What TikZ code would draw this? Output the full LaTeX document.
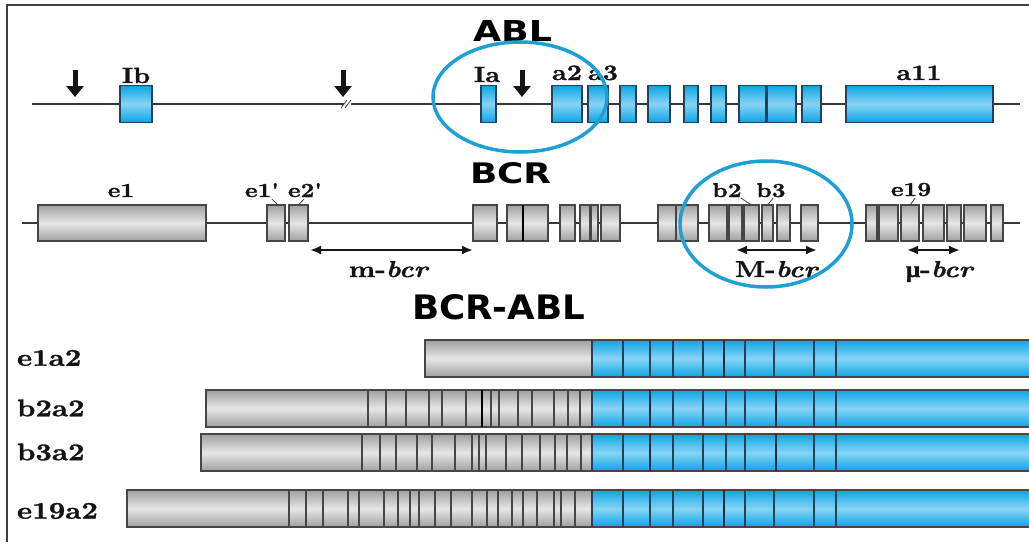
\documentclass[tikz,border=0pt]{standalone}
\usepackage{fontspec}
\usepackage{graphicx}
\usetikzlibrary{arrows.meta}
\newfontfamily\labfont[Extension=.otf, UprightFont=lmroman10-bold, ItalicFont=lmroman10-bolditalic, BoldFont=lmroman10-bold, BoldItalicFont=lmroman10-bolditalic, FakeStretch=1.2, FakeBold=1.2]{lmroman10}
\newfontfamily\titlefont{DejaVu Sans}
\newfontfamily\greekfont[FakeStretch=1.1, FakeBold=1.2]{Liberation Serif}
\definecolor{ablblue}{RGB}{10,165,228}
\definecolor{ablbluelight}{RGB}{135,212,245}
\definecolor{exgray}{RGB}{160,160,160}
\definecolor{exgraylight}{RGB}{230,230,230}
\definecolor{ringblue}{RGB}{30,160,215}
\definecolor{edgegray}{RGB}{70,70,70}
\definecolor{blueedge}{RGB}{35,65,90}
\definecolor{inkblack}{RGB}{20,20,20}
\newcommand\exon[5]{\node[#5, minimum width={#3-#2}] (#1) at ({(#2+#3)/2},#4) {};}
\begin{document}
\begin{tikzpicture}[x=1pt,y=-1pt,
  every node/.style={inner sep=0pt, outer sep=0pt},
  ablex/.style={draw=blueedge, line width=1.1pt, top color=ablblue, bottom color=ablblue, middle color=ablbluelight, minimum height=37pt},
  bcrex/.style={draw=edgegray, line width=1.1pt, top color=exgray, bottom color=exgray, middle color=exgraylight, minimum height=36pt},
  backbone/.style={line width=1.9pt, draw=inkblack!85},
  downarrow/.style={line width=5pt, draw=inkblack, -{Triangle[width=17pt,length=11pt]}},
  regionarrow/.style={line width=2.2pt, draw=inkblack, {Latex[length=11pt,width=9pt]}-{Latex[length=11pt,width=9pt]}},
  ring/.style={line width=3.5pt, draw=ringblue},
  leader/.style={line width=0.8pt, draw=inkblack!80},
  abllab/.style={anchor=base, text=inkblack, font=\labfont\fontsize{22}{24}\selectfont},
  bcrlab/.style={anchor=base, text=inkblack, font=\labfont\fontsize{20}{22}\selectfont},
  reglab/.style={anchor=base, text=inkblack, font=\labfont\fontsize{23}{25}\selectfont},
  barlab/.style={anchor=west, text=inkblack, font=\labfont\fontsize{24}{26}\selectfont},
  grayfill/.style={top color=exgray, bottom color=exgray, middle color=exgraylight},
  bluefill/.style={top color=ablblue, bottom color=ablblue, middle color=ablbluelight},
  graydiv/.style={line width=1.3pt, draw=edgegray},
  graydark/.style={line width=2pt, draw=black},
  bluediv/.style={line width=1.3pt, draw=blueedge},
  bluedark/.style={line width=2.2pt, draw=blueedge!70!black},
  frame/.style={line width=1.5pt, draw=black!75}
]
\fill[white] (0,0) rectangle (1029,542);
\useasboundingbox (0,0) rectangle (1029,542);
% frame
\coordinate (frTL) at (7,5);
\coordinate (frTR) at (1029,5);
\coordinate (frBL) at (7,542);
\draw[frame] (frBL) -- (frTL) -- (frTR);

% ---------------- ABL ----------------
\coordinate (ablL) at (32,104);
\coordinate (brkL) at (344,104);
\coordinate (brkR) at (351,104);
\coordinate (ablR) at (1020,104);
\draw[backbone] (ablL) -- (brkL);
\draw[backbone] (brkR) -- (ablR);
\draw[line width=0.8pt, draw=inkblack!80] (341,108) -- (347,100) (345,108) -- (351,100);

\exon{Ib}{120}{152}{104}{ablex}
\exon{Ia}{481}{496}{104}{ablex}
\exon{a2}{552}{582}{104}{ablex}
\exon{a3}{588}{608}{104}{ablex}
\exon{a4}{620}{636}{104}{ablex}
\exon{a5}{648}{670}{104}{ablex}
\exon{a6}{684}{698}{104}{ablex}
\exon{a7}{711}{726}{104}{ablex}
\exon{a8}{739}{766}{104}{ablex}
\exon{a9}{767}{796}{104}{ablex}
\exon{a10}{802}{821}{104}{ablex}
\exon{a11}{846}{993}{104}{ablex}

\coordinate (arAt) at (75,70);
\coordinate (arAh) at (75,97);
\coordinate (arBt) at (343,70);
\coordinate (arBh) at (343,97);
\coordinate (arCt) at (522,70);
\coordinate (arCh) at (522,97);
\draw[downarrow] (arAt) -- (arAh);
\draw[downarrow] (arBt) -- (arBh);
\draw[downarrow] (arCt) -- (arCh);

\node[abllab] (lIb) at (136,83) {Ib};
\node[abllab] (lIa) at (487,82) {Ia};
\node[abllab] (la2) at (567,80) {a2};
\node[abllab] (la3) at (603,80) {a3};
\node[abllab] (la11) at (919,80) {a11};

\node[anchor=south west] (tABL) at (473,41) {\resizebox{79pt}{21pt}{\titlefont\bfseries ABL}};

% ---------------- BCR ----------------
\coordinate (bcrL) at (22,223);
\coordinate (bcrR) at (1020,223);
\draw[backbone] (bcrL) -- (bcrR);

\exon{e1}{38}{206}{223}{bcrex}
\exon{e1p}{267}{285}{223}{bcrex}
\exon{e2p}{289}{308}{223}{bcrex}
\exon{bx1}{473}{497}{223}{bcrex}
\exon{bx2}{507}{523}{223}{bcrex}
\exon{bx3}{523}{548}{223}{bcrex}
\exon{bx4}{560}{575}{223}{bcrex}
\exon{bx5}{580}{590}{223}{bcrex}
\exon{bx6}{591}{598}{223}{bcrex}
\exon{bx7}{601}{620}{223}{bcrex}
\exon{bx8}{658}{676}{223}{bcrex}
\exon{bx9}{676}{698}{223}{bcrex}
\exon{bx10}{709}{727}{223}{bcrex}
\exon{bx11}{729}{742}{223}{bcrex}
\exon{b2ex}{744}{759}{223}{bcrex}
\exon{b3ex}{762}{773}{223}{bcrex}
\exon{bx14}{777}{790}{223}{bcrex}
\exon{bx15}{801}{818}{223}{bcrex}
\exon{cx1}{866}{877}{223}{bcrex}
\exon{cx2}{879}{898}{223}{bcrex}
\exon{e19ex}{901}{919}{223}{bcrex}
\exon{cx4}{923}{944}{223}{bcrex}
\exon{cx5}{947}{961}{223}{bcrex}
\exon{cx6}{964}{986}{223}{bcrex}
\exon{cx7}{991}{1003}{223}{bcrex}
\draw[line width=1.8pt, draw=black] (bx3.north west) -- (bx3.south west);

\node[bcrlab] (le1) at (121,197) {e1};
\node[bcrlab] (le1p) at (262,197) {e1'};
\node[bcrlab] (le2p) at (305,197) {e2'};
\node[bcrlab] (lb2) at (727,197) {b2};
\node[bcrlab] (lb3) at (771,197) {b3};
\node[bcrlab] (le19) at (911,196) {e19};
\draw[leader] ([xshift=10pt,yshift=-2pt]le1p.south) -- ([xshift=2pt]e1p.north);
\draw[leader] ([xshift=-1pt,yshift=-2pt]le2p.south) -- (e2p.north);
\draw[leader] ([xshift=14pt,yshift=-1pt]lb2.south) -- (b2ex.north);
\draw[leader] ([xshift=2pt,yshift=-1pt]lb3.south) -- (b3ex.north);
\draw[leader] ([xshift=4pt,yshift=-2pt]le19.south) -- (e19ex.north);

\node[anchor=south west] (tBCR) at (470,184) {\resizebox{81pt}{21pt}{\titlefont\bfseries BCR}};

\coordinate (mL) at (310,250);
\coordinate (mR) at (473,250);
\coordinate (ML) at (736,250);
\coordinate (MR) at (817,250);
\coordinate (uL) at (907,250);
\coordinate (uR) at (960,250);
\draw[regionarrow] (mL) -- (mR);
\draw[regionarrow] (ML) -- (MR);
\draw[regionarrow] (uL) -- (uR);

% rings
\draw[ring] (520,97) ellipse [x radius=87, y radius=55];
\draw[ring] (766,224) ellipse [x radius=86, y radius=63];

\node[reglab] (lm) at (389,277) {m-\textit{bcr}};
\node[reglab] (lM) at (777,277) {M-\textit{bcr}};
\node[reglab] (lu) at (940,277) {{\greekfont\bfseries μ}-\textit{bcr}};

% ---------------- BCR-ABL ----------------
\node[anchor=south west] (tFus) at (412,320) {\resizebox{173pt}{25pt}{\titlefont\bfseries BCR-ABL}};

% e1a2
\shade[grayfill] (425,340) rectangle (592,377);
\shade[bluefill] (592,340) rectangle (1034,377);
\draw[line width=1.2pt, draw=edgegray] (1034,340) -- (425,340) -- (425,377) -- (1034,377);
\foreach \x in {623,650,673,703,745,774,814,836} \draw[bluediv] (\x,340) -- (\x,377);
\draw[bluedark] (724,340) -- (724,377);
\draw[bluediv] (592,340) -- (592,377);

% b2a2
\shade[grayfill] (206,390) rectangle (592,427);
\shade[bluefill] (592,390) rectangle (1034,427);
\draw[line width=1.2pt, draw=edgegray] (1034,390) -- (206,390) -- (206,427) -- (1034,427);
\foreach \x in {368,386,406,429,442,466,491,499,518,532,554,568,580} \draw[graydiv] (\x,390) -- (\x,427);
\draw[graydark] (482,390) -- (482,427);
\foreach \x in {623,673,703,726,745,814,836} \draw[bluediv] (\x,390) -- (\x,427);
\foreach \x in {650,776} \draw[bluedark] (\x,390) -- (\x,427);
\draw[bluediv] (592,390) -- (592,427);

% b3a2
\shade[grayfill] (201,434) rectangle (592,471);
\shade[bluefill] (592,434) rectangle (1034,471);
\draw[line width=1.2pt, draw=edgegray] (1034,434) -- (201,434) -- (201,471) -- (1034,471);
\foreach \x in {362,380,396,417,432,455,472,479,486,506,522,540,555,567,581} \draw[graydiv] (\x,434) -- (\x,471);
\foreach \x in {623,673,703,726,745,814,836} \draw[bluediv] (\x,434) -- (\x,471);
\foreach \x in {650,776} \draw[bluedark] (\x,434) -- (\x,471);
\draw[bluediv] (592,434) -- (592,471);

% e19a2
\shade[grayfill] (127,490) rectangle (592,527);
\shade[bluefill] (592,490) rectangle (1034,527);
\draw[line width=1.2pt, draw=edgegray] (1034,490) -- (127,490) -- (127,527) -- (1034,527);
\foreach \x in {289,306,323,348,359,384,398,410,419,435,451,472,487,498,512,523,537,554,561,575} \draw[graydiv] (\x,490) -- (\x,527);
\foreach \x in {623,650,673,703,745,774,814,836} \draw[bluediv] (\x,490) -- (\x,527);
\draw[bluedark] (724,490) -- (724,527);
\draw[bluediv] (592,490) -- (592,527);

\node[barlab] (le1a2) at (17,358) {e1a2};
\node[barlab] (lb2a2) at (17,408) {b2a2};
\node[barlab] (lb3a2) at (17,452) {b3a2};
\node[barlab] (le19a2) at (17,511) {e19a2};
\end{tikzpicture}
\end{document}
